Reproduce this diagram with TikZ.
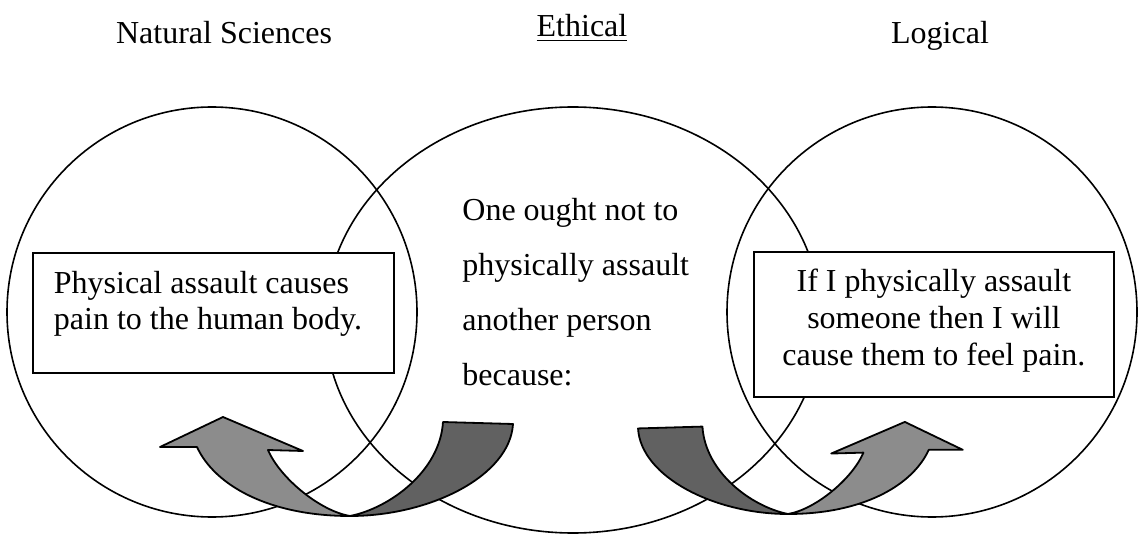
\documentclass[tikz,border=0pt]{standalone}
\usepackage{fontspec}
\setmainfont{Liberation Serif}

% box text: height, width, top gap, lines
\newcommand{\boxlines}[4]{\parbox[c][#1][t]{#2}{\vspace*{#3}#4}}

\begin{document}
\begin{tikzpicture}[x=0.5pt,y=-0.5pt]

	\tikzset{ring/.style={draw=black,line width=0.8pt},
		textbox/.style={rectangle,draw=black,fill=white,line width=0.9pt,
			inner xsep=10.5pt,inner ysep=0pt,anchor=north west,
			font=\fontsize{16pt}{18.4pt}\selectfont},
		title/.style={anchor=base,inner sep=0pt,font=\fontsize{16pt}{18.4pt}\selectfont},
		ethtext/.style={anchor=north west,align=left,inner sep=0pt,
			font=\fontsize{16pt}{27.5pt}\selectfont},
		arrowlight/.style={fill=black!45,draw=black,line width=0.9pt,line join=round},
		arrowdark/.style={fill=black!62,draw=black,line width=0.9pt,line join=round},
		pics/bentarrow/.style={code={
			\path[arrowlight] (-153,-69) -- (-190,-69) -- (-127,-99) -- (-47,-65) -- (-82,-66)
				.. controls (-70,-38) and (-30,-5) .. (0,0)
				.. controls (-80,0) and (-135,-30) .. (-153,-69) -- cycle;
			\path[arrowdark] (93,-94) -- (163,-92)
				.. controls (160,-40) and (80,0) .. (0,0)
				.. controls (40,-8) and (90,-45) .. (93,-94) -- cycle;
		}}}

	\useasboundingbox (0,0) rectangle (1141,534);

	% the three circles
	\coordinate (natc) at (212,312);
	\coordinate (ethc) at (573,320);
	\coordinate (logc) at (932,312);
	\draw[ring] (natc) circle [radius=205];
	\draw[ring] (ethc) ellipse [x radius=248,y radius=213];
	\draw[ring] (logc) circle [radius=205];

	% headings
	\node[title] (natural) at (224,44) {Natural Sciences};
	\node[title] (ethical) at (582,37) {\underline{Ethical}};
	\node[title] (logical) at (940,44) {Logical};

	% curved arrows
	\pic at (350,516) {bentarrow};
	\pic[xscale=-0.92,yscale=0.93] at (788,514) {bentarrow};

	% boxes and text
	\node[textbox] (natbox) at (32,252) {\boxlines{60pt}{159.5pt}{9pt}{\raggedright Physical assault causes\\ pain to the human body.}};
	\node[textbox] (logbox) at (753,251) {\boxlines{72.5pt}{159pt}{8.6pt}{\centering If I physically assault\\ someone then I will\\ cause them to feel pain.}};
	\node[ethtext] (ethbody) at (462,198) {One ought not to\\physically assault\\another person\\because:};

\end{tikzpicture}
\end{document}
